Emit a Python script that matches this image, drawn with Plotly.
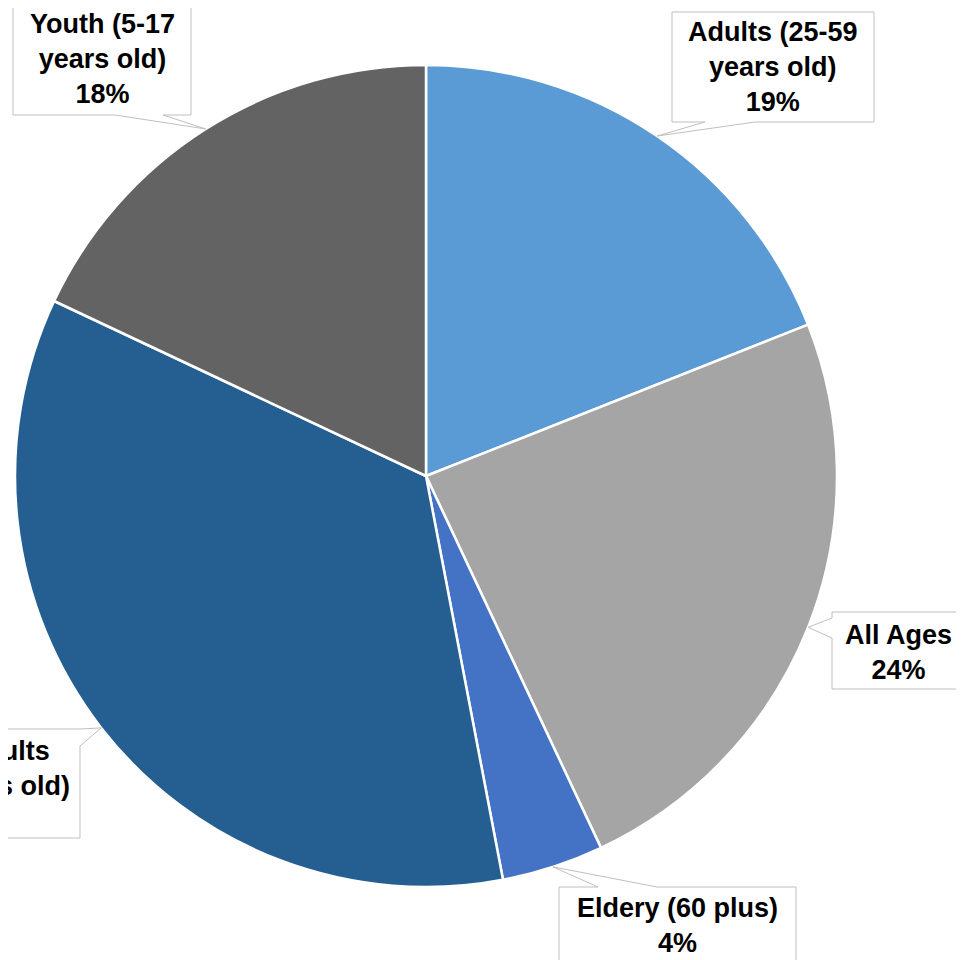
import math
import plotly.graph_objects as go

# ---- data ----
labels = ["Adults (25-59 years old)", "All Ages", "Eldery (60 plus)",
          "Young Adults (18-24 years old)", "Youth (5-17 years old)"]
label_lines = ["Adults (25-59<br>years old)", "All Ages", "Eldery (60 plus)",
               "Young Adults<br>(18-24 years old)", "Youth (5-17<br>years old)"]
values = [19, 24, 4, 35, 18]
colors = ["#5B9BD5", "#A5A5A5", "#4472C4", "#255E91", "#636363"]

OFF = 8  # page body margin offset
W, H = 964 + OFF, 960 + OFF
CX, CY, R = 426, 476, 411

def X(px):
    return (px - OFF) / W

def Y(py):
    return 1 - (py - OFF) / H

fig = go.Figure(go.Pie(
    labels=labels, values=values, sort=False, direction="clockwise", rotation=0,
    marker=dict(colors=colors, line=dict(color="white", width=2.5)),
    textinfo="none", hoverinfo="label+percent", showlegend=False,
    domain=dict(x=[X(CX - R), X(CX + R)], y=[Y(CY + R), Y(CY - R)]),
))

callouts = [
    dict(box=(672, 12, 874, 122), side="bottom", base=(705, 755), tx=773, ty=67, xa="center"),
    dict(box=(832, 612, 1000, 689), side="left", base=(618, 638), tx=898, ty=652, xa="center"),
    dict(box=(559, 887, 796, 1000), side="top", base=(598, 657), tx=677, ty=925, xa="center"),
    dict(box=(-200, 729, 80, 838), side="right", base=(729, 746), tx=72, ty=786, xa="right"),
    dict(box=(13, 4, 191, 115), side="bottom", base=(115, 163), tx=102, ty=59, xa="center"),
]

total = sum(values)
cum = 0
shapes = []
annotations = []
for i, v in enumerate(values):
    mid = (cum + v / 2) / total * 2 * math.pi
    cum += v
    tipx = CX + R * math.sin(mid)
    tipy = CY - R * math.cos(mid)
    c = callouts[i]
    x0, y0, x1, y1 = c["box"]
    b1, b2 = c["base"]
    pts = [(x0, y0)]
    if c["side"] == "top":
        pts += [(b1, y0), (tipx, tipy), (b2, y0)]
    pts += [(x1, y0)]
    if c["side"] == "right":
        pts += [(x1, b1), (tipx, tipy), (x1, b2)]
    pts += [(x1, y1)]
    if c["side"] == "bottom":
        pts += [(b2, y1), (tipx, tipy), (b1, y1)]
    pts += [(x0, y1)]
    if c["side"] == "left":
        pts += [(x0, b2), (tipx, tipy), (x0, b1)]
    path = "M " + " L ".join(f"{X(px):.5f},{Y(py):.5f}" for px, py in pts) + " Z"
    shapes.append(dict(type="path", xref="paper", yref="paper", path=path,
                       fillcolor="white", line=dict(color="#BFBFBF", width=1),
                       layer="above"))
    pct = round(v / total * 100)
    annotations.append(dict(
        xref="paper", yref="paper", x=X(c["tx"]), y=Y(c["ty"]),
        xanchor=c["xa"], yanchor="middle", align="center", showarrow=False,
        text=f"<b>{label_lines[i]}<br>{pct}%</b>",
        font=dict(family="Liberation Sans, Arial, sans-serif", size=27, color="black"),
    ))

fig.update_layout(
    width=W, height=H, margin=dict(l=0, r=0, t=0, b=0),
    paper_bgcolor="white", plot_bgcolor="white",
    shapes=shapes, annotations=annotations,
)

fig.write_html("out.html")
